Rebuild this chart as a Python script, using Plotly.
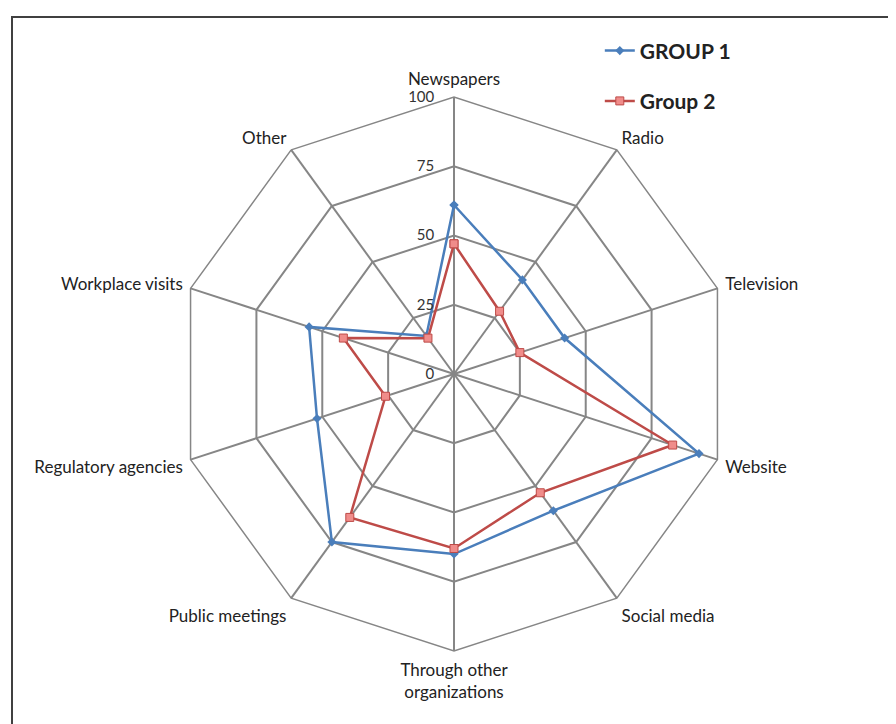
import plotly.graph_objects as go

categories = ["Newspapers", "Radio", "Television", "Website", "Social media",
              "Through other<br>organizations", "Public meetings",
              "Regulatory agencies", "Workplace visits", "Other"]
group1 = [61, 42, 42, 93, 61, 65, 75, 52, 55, 17]
group2 = [47, 28, 25, 83, 53, 63, 64, 26, 42, 16]
radial_ticks = [0, 25, 50, 75, 100]

W, H = 896, 724
cx, cy, R = 446, 366, 277

fig = go.Figure()
fig.add_trace(go.Scatterpolar(
    r=group1 + group1[:1], theta=categories + categories[:1], name="GROUP 1",
    mode="lines+markers", legendgroup="g1",
    line=dict(color="#4A7EBB", width=2.5),
    marker=dict(symbol="diamond", size=7, color="#4A7EBB")))
fig.add_trace(go.Scatterpolar(
    r=group2 + group2[:1], theta=categories + categories[:1], name="Group 2",
    mode="lines+markers", legendgroup="g2",
    line=dict(color="#BE4B48", width=2.5),
    marker=dict(symbol="square", size=8, color="#F08C8A",
                line=dict(color="#BE4B48", width=1))))

fig.update_layout(
    width=W, height=H,
    margin=dict(l=0, r=0, t=0, b=0),
    paper_bgcolor="white", plot_bgcolor="white",
    font=dict(family="Lato, Open Sans, sans-serif", size=17, color="#222222"),
    polar=dict(
        domain=dict(x=[(cx - R) / W, (cx + R) / W],
                    y=[(H - cy - R) / H, (H - cy + R) / H]),
        gridshape="linear",
        bgcolor="white",
        angularaxis=dict(rotation=90, direction="clockwise",
                         linecolor="#868686", linewidth=1.5,
                         gridcolor="#868686", gridwidth=1.5,
                         showticklabels=True, ticks="outside", ticklen=4,
                         tickcolor="rgba(0,0,0,0)",
                         tickfont=dict(size=17, color="#222222")),
        radialaxis=dict(range=[0, 100], tickvals=radial_ticks,
                        angle=90, tickangle=90, side="counterclockwise",
                        showline=False, ticks="outside", ticklen=14,
                        tickcolor="rgba(0,0,0,0)",
                        gridcolor="#868686", gridwidth=1.5,
                        tickfont=dict(size=15, color="#333333")),
    ),
    legend=dict(x=0.6605, y=0.969, xanchor="left", yanchor="top",
                tracegroupgap=20, bgcolor="rgba(0,0,0,0)",
                font=dict(size=21, color="#222222",
                          family="Lato, Open Sans, sans-serif", weight="bold")),
    shapes=[dict(type="rect", xref="paper", yref="paper",
                 x0=4 / W, x1=1.01, y0=-0.01, y1=1 - 9 / H,
                 line=dict(color="#404040", width=2))],
)

fig.write_html("out.html")
